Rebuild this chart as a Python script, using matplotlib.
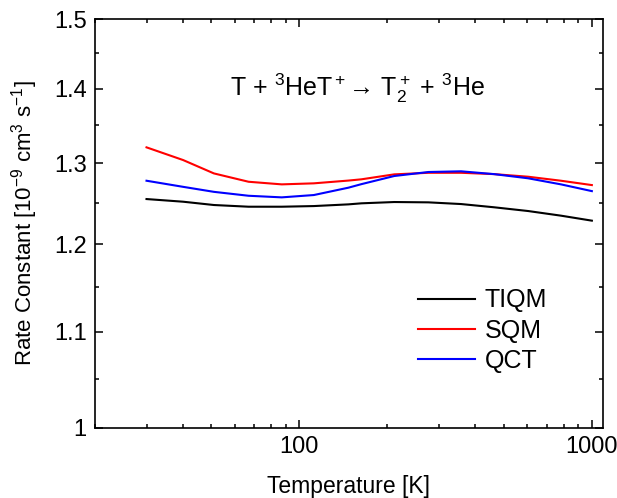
import matplotlib
matplotlib.use("Agg")
import matplotlib.pyplot as plt
from matplotlib.ticker import FixedLocator, FixedFormatter, NullFormatter

plt.rcParams['font.family'] = ['Liberation Sans', 'DejaVu Sans']
plt.rcParams['mathtext.fontset'] = 'custom'
plt.rcParams['mathtext.rm'] = 'Liberation Sans'
plt.rcParams['mathtext.it'] = 'Liberation Sans'
plt.rcParams['mathtext.bf'] = 'Liberation Sans:bold'

# temperatures (K) and rate constants (1e-9 cm^3 s^-1)
temp = [30, 40, 51, 67, 87, 112, 147, 163, 211, 276, 357, 463, 605, 784, 1000]
tiqm = [1.2548, 1.2515, 1.2474, 1.2453, 1.2453, 1.2461, 1.2482, 1.2495,
        1.2511, 1.2507, 1.2486, 1.2446, 1.2400, 1.2343, 1.2282]
sqm = [1.3208, 1.3043, 1.2871, 1.2765, 1.2732, 1.2745, 1.2780, 1.2796,
       1.2859, 1.2879, 1.2879, 1.2862, 1.2829, 1.2778, 1.2723]
qct = [1.2778, 1.2701, 1.2638, 1.2589, 1.2569, 1.2598, 1.2690, 1.2735,
       1.2838, 1.2889, 1.2898, 1.2862, 1.2809, 1.2732, 1.2647]

y_major = [1.0, 1.1, 1.2, 1.3, 1.4, 1.5]
y_labels = ["1", "1.1", "1.2", "1.3", "1.4", "1.5"]
y_minor = [1.05, 1.15, 1.25, 1.35, 1.45]
x_major = [100, 1000]
x_labels = ["100", "1000"]
x_minor = [20, 30, 40, 50, 60, 70, 80, 90, 200, 300, 400, 500, 600, 700, 800, 900]

fig = plt.figure(figsize=(6.17, 4.98), dpi=100)
ax = fig.add_axes([0.154, 0.1406, 0.823, 0.8212])

ax.plot(temp, tiqm, color='black', lw=1.5, label='TIQM')
ax.plot(temp, sqm, color='red', lw=1.5, label='SQM')
ax.plot(temp, qct, color='blue', lw=1.5, label='QCT')

ax.set_xscale('log')
ax.set_yscale('log')
ax.set_xlim(20, 1090)
ax.set_ylim(1.0, 1.5)

ax.xaxis.set_major_locator(FixedLocator(x_major))
ax.xaxis.set_major_formatter(FixedFormatter(x_labels))
ax.xaxis.set_minor_locator(FixedLocator(x_minor))
ax.xaxis.set_minor_formatter(NullFormatter())
ax.yaxis.set_major_locator(FixedLocator(y_major))
ax.yaxis.set_major_formatter(FixedFormatter(y_labels))
ax.yaxis.set_minor_locator(FixedLocator(y_minor))
ax.yaxis.set_minor_formatter(NullFormatter())

ax.tick_params(which='both', direction='in', top=True, right=True, width=1.1)
ax.tick_params(which='major', length=6, labelsize=17, pad=6)
ax.tick_params(which='minor', length=3)
for s in ax.spines.values():
    s.set_linewidth(1.2)

ax.set_xlabel("Temperature [K]", fontsize=16.5, labelpad=12)
ax.set_ylabel("Rate Constant [10$^{-9}$ cm$^3$ s$^{-1}$]", fontsize=16, labelpad=10)

ax.text(0.517, 0.83, "T + $^3$HeT$^+$\u2192 T$_2^+$ + $^3$He",
        transform=ax.transAxes, ha='center', va='center', fontsize=18)

ax.legend(loc='lower right', bbox_to_anchor=(0.91, 0.11), frameon=False,
          fontsize=18, handlelength=2.25, handletextpad=0.4, labelspacing=0.25,
          borderaxespad=0)

fig.savefig("out.png", dpi=100)
